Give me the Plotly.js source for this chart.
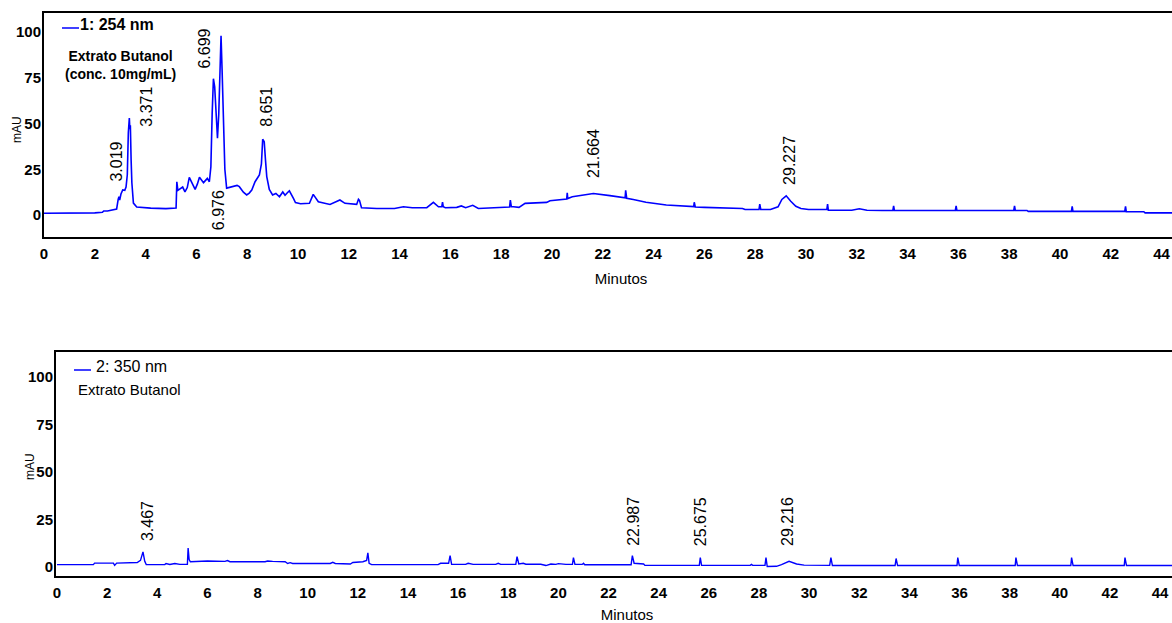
<!DOCTYPE html>
<html><head><meta charset="utf-8">
<script src="https://cdn.plot.ly/plotly-3.0.1.min.js"></script>
<style>html,body{margin:0;padding:0;overflow:hidden;background:#fff;width:1172px;height:623px}#chart{width:1200px;height:623px}</style>
</head><body><div id="chart"></div><script>
// ---- data: 254 nm chromatogram ----
const time254 = [0,1.0,1.5,2.0,2.3,2.35,2.5,2.8,2.86,2.92,2.95,2.98,3.03,3.1,3.18,3.23,3.28,3.32,3.36,3.38,3.4,3.43,3.46,3.52,3.65,4.2,4.8,5.2,5.23,5.27,5.33,5.46,5.55,5.64,5.72,5.83,5.95,6.04,6.12,6.28,6.43,6.51,6.57,6.62,6.67,6.72,6.77,6.83,6.88,6.93,6.97,7.01,7.06,7.12,7.19,7.3,7.45,7.6,7.69,7.85,7.98,8.08,8.18,8.31,8.48,8.56,8.61,8.67,8.72,8.77,8.87,9.0,9.13,9.27,9.4,9.49,9.58,9.66,9.82,9.9,10.1,10.45,10.6,10.8,11.26,11.65,11.85,12.31,12.38,12.42,12.5,13.1,13.8,14.15,14.5,15.07,15.33,15.53,15.66,15.69,15.72,15.8,16.25,16.43,16.6,16.88,17.1,17.6,18.2,18.33,18.36,18.4,18.48,18.7,18.94,19.4,19.79,19.92,20.3,20.58,20.6,20.62,20.8,21.2,21.63,22.28,22.8,22.88,22.9,22.94,23.2,23.7,24.5,25.2,25.58,25.6,25.64,26.0,26.5,27.5,27.6,28.15,28.18,28.22,28.6,28.9,29.05,29.22,29.4,29.6,29.8,30.1,30.82,30.85,30.88,31.2,31.8,32.1,32.4,33.0,33.42,33.45,33.48,34.5,35.88,35.91,35.94,37.0,38.18,38.21,38.24,38.7,38.75,40.45,40.48,40.51,41.5,42.55,42.58,42.61,43.3,43.35,44.0,45.5];
const mau254 = [1.0,1.0,1.1,1.2,1.5,2.2,2.2,2.8,3.3,8.5,10.0,8.2,11.5,13.7,13.5,15.3,22,45,53,47,49,30,17.5,6.5,4.4,3.8,3.5,3.8,18.2,13.5,14,15.3,12.7,15,20.6,17.5,14,17,20.6,17.7,20,18.2,26.4,55,74.5,70,58,42,55,90,98,80,50,25,14.7,15,15.8,16.2,15.5,12.5,11,12,13.7,18.2,21.9,28,41.4,40,30,21,14,11,11.8,10,12.6,10.8,12.2,13.2,9.1,6.8,6.2,6.4,11.3,7.3,5.8,8.2,6.4,5.8,8.6,8.0,4.0,3.6,3.6,4.5,4.0,4.0,6.9,4.5,4.5,7.0,4.5,4.0,4.2,5.0,4.0,5.3,3.6,4.0,4.2,4.4,8.2,4.5,4.5,4.2,6.4,6.5,6.9,7.8,8.2,8.8,12.2,9.0,10.0,11.0,11.8,10.6,9.4,9.4,13.5,9.2,8.5,7.0,5.5,4.8,4.6,7.0,4.4,4.2,3.9,3.6,3.0,3.0,6.0,3.0,3.0,4.5,8.5,10.5,7.5,4.8,3.6,3.0,3.0,6.0,2.6,2.5,2.6,3.4,2.6,2.5,2.5,5.0,2.5,2.5,2.5,5.0,2.5,2.5,2.5,5.0,2.5,2.5,2.0,2.0,4.8,2.0,2.0,2.0,4.8,1.8,1.8,1.2,1.2,1.2];
// ---- data: 350 nm chromatogram ----
const time350 = [0,1.45,1.5,2.25,2.3,2.38,3.2,3.33,3.43,3.5,3.56,4.3,4.35,4.5,4.7,4.9,5.2,5.23,5.27,5.32,6.0,6.7,6.8,6.9,8.3,8.4,8.6,9.1,9.2,9.3,9.4,10.9,11.0,11.1,11.7,11.8,12.2,12.35,12.4,12.45,12.55,15.2,15.3,15.62,15.68,15.74,16.3,16.4,16.6,17.5,17.6,17.7,18.3,18.35,18.42,18.6,18.7,19.3,19.5,19.7,19.9,20.0,20.3,20.56,20.6,20.66,20.95,21.0,21.05,22.9,22.95,23.02,23.4,23.45,25.62,25.66,25.71,27.65,27.7,27.75,28.24,28.28,28.33,28.7,28.9,29.2,29.5,29.8,30.82,30.87,30.93,33.43,33.47,33.53,35.9,35.93,35.99,38.22,38.25,38.31,40.44,40.47,40.53,42.57,42.6,42.66,45.5];
const mau350 = [1.3,1.3,2.1,2.1,0.9,2.1,2.4,3.5,8.0,3.0,1.3,1.3,1.9,1.4,1.9,1.4,1.4,10.0,4.0,2.8,3.2,3.0,3.4,2.8,2.8,3.2,3.0,2.8,1.9,2.3,1.9,1.9,2.5,1.9,1.6,2.4,2.8,3.5,7.5,2.0,1.3,1.3,2.0,2.0,6.0,1.4,1.4,2.0,1.4,1.4,2.0,1.4,1.4,5.5,1.6,2.0,1.5,1.5,0.8,1.6,1.4,1.8,1.4,1.4,5.0,1.4,1.4,2.0,1.2,1.2,6.0,2.0,1.6,0.9,0.9,5.0,0.9,0.9,1.4,0.9,0.9,5.0,0.3,0.4,1.3,3.0,1.6,1.0,0.9,5.0,0.8,0.8,4.5,0.8,0.8,5.0,0.8,0.8,5.0,0.8,0.8,5.0,0.8,0.8,5.0,0.8,0.8];
// ---- labels ----
const peaks254 = ['3.019','3.371','6.699','6.976','8.651','21.664','29.227'];
const peaks350 = ['3.467','22.987','25.675','29.216'];
const xTickVals = [0,2,4,6,8,10,12,14,16,18,20,22,24,26,28,30,32,34,36,38,40,42,44];
const yTickVals = [0,25,50,75,100];
const seriesNames = ['1: 254 nm','2: 350 nm'];
const sampleText254 = 'Extrato Butanol<br>(conc. 10mg/mL)';
const sampleText350 = 'Extrato Butanol';
const xTitle = 'Minutos';
const yTitle = 'mAU';

// ---- geometry (pixels) ----
const W = 1200, H = 623, ML = 44, MR = 2, MT = 13, MB = 47;
const PW = W - ML - MR, PH = H - MT - MB;
const px = x => (x - ML) / PW;
const py = y => (H - MB - y) / PH;
const FONT = 'Liberation Sans, Arial, sans-serif';
const BLUE = '#0000ff';

// label placement (not data): y level in axis units, pixel shift, anchor
const place254 = [
  {y:17, dx:-4, anchor:'bottom'},
  {y:47, dx:16, anchor:'bottom'},
  {y:79, dx:-10, anchor:'bottom'},
  {y:14.8, dx:-2, anchor:'top'},
  {y:47, dx:2, anchor:'bottom'},
  {y:19, dx:-1, anchor:'bottom'},
  {y:15.3, dx:3, anchor:'bottom'}
];
const place350 = [
  {y:12.6, dx:3, anchor:'bottom'},
  {y:10, dx:0, anchor:'bottom'},
  {y:10, dx:0, anchor:'bottom'},
  {y:10, dx:-2, anchor:'bottom'}
];

const traces = [
  {x: time254, y: mau254, type:'scatter', mode:'lines', name: seriesNames[0],
   line:{color:BLUE, width:1.6}, xaxis:'x', yaxis:'y', showlegend:false, hoverinfo:'skip'},
  {x: time350, y: mau350, type:'scatter', mode:'lines', name: seriesNames[1],
   line:{color:BLUE, width:1.4}, xaxis:'x2', yaxis:'y2', showlegend:false, hoverinfo:'skip'}
];

const annotations = [];
peaks254.forEach((p,i)=>{
  annotations.push({x: parseFloat(p), y: place254[i].y, xref:'x', yref:'y', text:p,
    textangle:-90, showarrow:false, xanchor:'center', yanchor:place254[i].anchor,
    xshift: place254[i].dx, font:{family:FONT, size:16, color:'#000'}});
});
peaks350.forEach((p,i)=>{
  annotations.push({x: parseFloat(p), y: place350[i].y, xref:'x2', yref:'y2', text:p,
    textangle:-90, showarrow:false, xanchor:'center', yanchor:place350[i].anchor,
    xshift: place350[i].dx, font:{family:FONT, size:16, color:'#000'}});
});
// legend-like texts
annotations.push({x:px(78), y:py(24), xref:'paper', yref:'paper', text:seriesNames[0], showarrow:false,
  xanchor:'left', yanchor:'middle', font:{family:FONT, size:16, color:'#000', weight:'bold'}});
annotations.push({x:px(120), y:py(65), xref:'paper', yref:'paper', text:sampleText254, showarrow:false,
  xanchor:'center', yanchor:'middle', align:'center', font:{family:FONT, size:14, color:'#000', weight:'bold'}});
annotations.push({x:px(94), y:py(366), xref:'paper', yref:'paper', text:seriesNames[1], showarrow:false,
  xanchor:'left', yanchor:'middle', font:{family:FONT, size:16, color:'#000'}});
annotations.push({x:px(76), y:py(390), xref:'paper', yref:'paper', text:sampleText350, showarrow:false,
  xanchor:'left', yanchor:'middle', font:{family:FONT, size:15, color:'#000'}});
// y axis titles
annotations.push({x:px(17), y:py(130), xref:'paper', yref:'paper', text:yTitle, textangle:-90, showarrow:false,
  xanchor:'center', yanchor:'middle', font:{family:FONT, size:12, color:'#000'}});
annotations.push({x:px(30), y:py(467), xref:'paper', yref:'paper', text:yTitle, textangle:-90, showarrow:false,
  xanchor:'center', yanchor:'middle', font:{family:FONT, size:12, color:'#000'}});

const shapes = [
  {type:'line', xref:'paper', yref:'paper', x0:px(62), x1:px(79), y0:py(28), y1:py(28), line:{color:BLUE, width:1.5}},
  {type:'line', xref:'paper', yref:'paper', x0:px(74), x1:px(91), y0:py(370), y1:py(370), line:{color:BLUE, width:1.5}}
];

const axCommon = {showline:true, linecolor:'#000', linewidth:2, mirror:true, showgrid:false, zeroline:false,
  ticks:'', tickmode:'array', fixedrange:true};
const tickFont = {family:FONT, size:15, color:'#000', weight:'bold'};

const layout = {
  width:W, height:H, margin:{l:ML, r:MR, t:MT, b:MB},
  paper_bgcolor:'#fff', plot_bgcolor:'#fff', showlegend:false,
  xaxis: Object.assign({}, axCommon, {domain:[0,1], anchor:'y', range:[0,(W-MR-ML)/25.4],
    tickvals:xTickVals, ticktext:xTickVals.map(String), tickfont:tickFont, ticklabelstandoff:2,
    title:{text:xTitle, font:{family:FONT, size:15, color:'#000'}, standoff:12}}),
  yaxis: Object.assign({}, axCommon, {domain:[py(237),1], anchor:'x', range:[-12,110.4],
    tickvals:yTickVals, ticktext:yTickVals.map(String), tickfont:tickFont, ticklabelstandoff:-2}),
  xaxis2: Object.assign({}, axCommon, {domain:[px(56),1], anchor:'y2', range:[-0.04,(W-MR-57)/25.07],
    tickvals:xTickVals, ticktext:xTickVals.map(String), tickfont:tickFont, ticklabelstandoff:2,
    title:{text:xTitle, font:{family:FONT, size:15, color:'#000'}, standoff:10}}),
  yaxis2: Object.assign({}, axCommon, {domain:[0,py(352)], anchor:'x2', range:[-4.7,113.2],
    tickvals:yTickVals, ticktext:yTickVals.map(String), tickfont:tickFont, ticklabelstandoff:-2}),
  annotations: annotations,
  shapes: shapes
};

Plotly.newPlot('chart', traces, layout, {staticPlot:true, displayModeBar:false});
</script></body></html>
